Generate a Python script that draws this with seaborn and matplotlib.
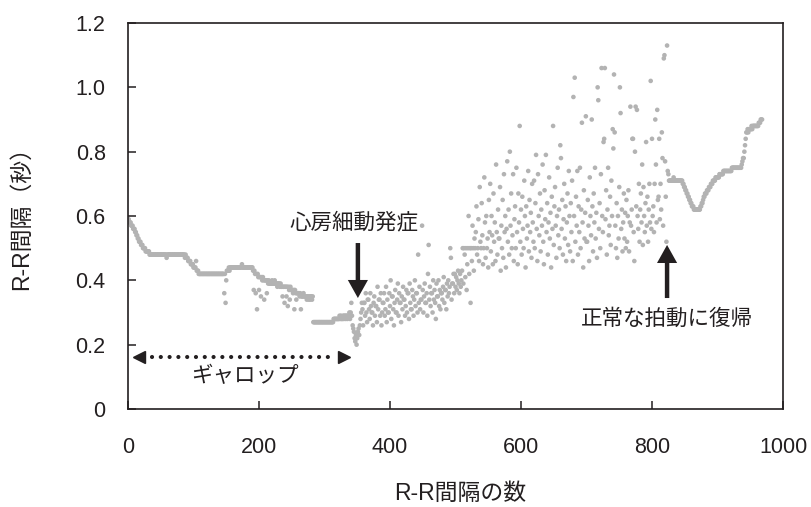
import numpy as np
import pandas as pd
import matplotlib
matplotlib.use("Agg")
import matplotlib.pyplot as plt
import seaborn as sns

# R-R intervals (s), one value per beat
gallop_rr = [
    0.59, 0.59, 0.58, 0.58, 0.58, 0.57, 0.57, 0.57, 0.56, 0.56,
    0.56, 0.55, 0.55, 0.54, 0.54, 0.53, 0.53, 0.52, 0.52, 0.52,
    0.51, 0.51, 0.51, 0.50, 0.50, 0.50, 0.50, 0.49, 0.49, 0.49,
    0.49, 0.49, 0.49, 0.48, 0.48, 0.48, 0.48, 0.48, 0.48, 0.48,
    0.48, 0.48, 0.48, 0.48, 0.48, 0.48, 0.48, 0.48, 0.48, 0.48,
    0.48, 0.48, 0.48, 0.48, 0.48, 0.48, 0.48, 0.48, 0.48, 0.47,
    0.48, 0.48, 0.48, 0.48, 0.48, 0.48, 0.48, 0.48, 0.48, 0.48,
    0.48, 0.48, 0.48, 0.48, 0.48, 0.48, 0.48, 0.48, 0.48, 0.48,
    0.48, 0.48, 0.48, 0.48, 0.48, 0.48, 0.48, 0.47, 0.48, 0.47,
    0.47, 0.47, 0.46, 0.46, 0.46, 0.46, 0.45, 0.45, 0.45, 0.45,
    0.44, 0.44, 0.44, 0.44, 0.46, 0.43, 0.43, 0.43, 0.42, 0.42,
    0.42, 0.42, 0.42, 0.42, 0.42, 0.42, 0.42, 0.42, 0.42, 0.42,
    0.42, 0.42, 0.42, 0.42, 0.42, 0.42, 0.42, 0.42, 0.42, 0.42,
    0.42, 0.42, 0.42, 0.42, 0.42, 0.42, 0.42, 0.42, 0.42, 0.42,
    0.42, 0.42, 0.42, 0.42, 0.42, 0.42, 0.42, 0.36, 0.42, 0.33,
    0.40, 0.43, 0.43, 0.43, 0.44, 0.43, 0.44, 0.44, 0.44, 0.44,
    0.44, 0.44, 0.44, 0.44, 0.44, 0.44, 0.44, 0.44, 0.44, 0.44,
    0.44, 0.44, 0.44, 0.44, 0.45, 0.44, 0.44, 0.44, 0.44, 0.44,
    0.44, 0.44, 0.44, 0.44, 0.44, 0.44, 0.44, 0.44, 0.44, 0.44,
    0.44, 0.43, 0.37, 0.43, 0.42, 0.36, 0.42, 0.31, 0.42, 0.41,
    0.37, 0.41, 0.41, 0.35, 0.41, 0.40, 0.41, 0.40, 0.34, 0.40,
    0.40, 0.40, 0.36, 0.40, 0.39, 0.40, 0.39, 0.39, 0.39, 0.39,
    0.40, 0.39, 0.39, 0.39, 0.40, 0.39, 0.39, 0.39, 0.38, 0.39,
    0.39, 0.39, 0.38, 0.39, 0.38, 0.38, 0.35, 0.38, 0.38, 0.33,
    0.38, 0.38, 0.35, 0.38, 0.32, 0.38, 0.37, 0.34, 0.38, 0.37,
    0.37, 0.37, 0.36, 0.37, 0.31, 0.37, 0.36, 0.34, 0.36, 0.36,
    0.36, 0.36, 0.35, 0.36, 0.31, 0.35, 0.35, 0.35, 0.36, 0.35,
    0.35, 0.35, 0.35, 0.34, 0.35, 0.35, 0.34, 0.35, 0.34, 0.35,
    0.35, 0.34, 0.35, 0.27, 0.27, 0.27, 0.27, 0.27, 0.27, 0.27,
    0.27, 0.27, 0.27, 0.27, 0.27, 0.27, 0.27, 0.27, 0.27, 0.27,
    0.27, 0.27, 0.27, 0.27, 0.27, 0.27, 0.27, 0.27, 0.27, 0.27,
    0.27, 0.27, 0.27, 0.27, 0.28, 0.28, 0.28, 0.28, 0.28, 0.28,
    0.28, 0.28, 0.28, 0.29, 0.28, 0.29, 0.28, 0.28, 0.29, 0.28,
    0.29, 0.29, 0.28, 0.29, 0.29, 0.28, 0.29, 0.29, 0.30, 0.28,
]

af_rr = [
    0.30, 0.33, 0.29, 0.26, 0.25, 0.24, 0.22, 0.21, 0.23, 0.20,
    0.22, 0.24, 0.25, 0.23, 0.26, 0.28, 0.30, 0.33, 0.31, 0.26,
    0.33, 0.33, 0.29, 0.36, 0.30, 0.27, 0.34, 0.34, 0.31, 0.28,
    0.36, 0.32, 0.30, 0.30, 0.26, 0.33, 0.35, 0.29, 0.32, 0.32,
    0.27, 0.38, 0.31, 0.34, 0.34, 0.29, 0.36, 0.26, 0.30, 0.33,
    0.33, 0.36, 0.29, 0.31, 0.38, 0.27, 0.34, 0.30, 0.30, 0.36,
    0.32, 0.40, 0.28, 0.35, 0.35, 0.31, 0.26, 0.33, 0.37, 0.30,
    0.30, 0.34, 0.39, 0.29, 0.36, 0.33, 0.33, 0.27, 0.35, 0.31,
    0.38, 0.34, 0.34, 0.29, 0.32, 0.37, 0.30, 0.36, 0.36, 0.28,
    0.39, 0.33, 0.31, 0.31, 0.37, 0.35, 0.29, 0.34, 0.40, 0.32,
    0.36, 0.36, 0.30, 0.48, 0.33, 0.38, 0.31, 0.34, 0.34, 0.57,
    0.37, 0.30, 0.35, 0.39, 0.33, 0.33, 0.36, 0.29, 0.42, 0.51,
    0.34, 0.38, 0.32, 0.36, 0.36, 0.30, 0.40, 0.34, 0.37, 0.33,
    0.28, 0.39, 0.35, 0.35, 0.40, 0.32, 0.37, 0.31, 0.36, 0.36,
    0.34, 0.38, 0.41, 0.33, 0.37, 0.37, 0.31, 0.39, 0.35, 0.40,
    0.36, 0.38, 0.50, 0.47, 0.34, 0.39, 0.39, 0.42, 0.36, 0.42,
    0.38, 0.41, 0.37, 0.40, 0.43, 0.39, 0.36, 0.42, 0.38, 0.40,
    0.43, 0.50, 0.39, 0.50, 0.48, 0.41, 0.50, 0.37, 0.45, 0.50,
    0.60, 0.42, 0.50, 0.33, 0.50, 0.46, 0.57, 0.50, 0.43, 0.53,
    0.50, 0.55, 0.63, 0.48, 0.50, 0.59, 0.46, 0.69, 0.52, 0.50,
    0.64, 0.54, 0.45, 0.50, 0.72, 0.58, 0.47, 0.60, 0.50, 0.53,
    0.44, 0.65, 0.55, 0.70, 0.49, 0.60, 0.54, 0.45, 0.67, 0.52,
    0.58, 0.46, 0.76, 0.55, 0.48, 0.62, 0.53, 0.53, 0.69, 0.43,
    0.57, 0.50, 0.65, 0.47, 0.73, 0.55, 0.60, 0.44, 0.56, 0.77,
    0.52, 0.62, 0.48, 0.80, 0.57, 0.67, 0.50, 0.54, 0.73, 0.46,
    0.59, 0.63, 0.50, 0.75, 0.55, 0.45, 0.67, 0.58, 0.88, 0.52,
    0.62, 0.48, 0.66, 0.56, 0.50, 0.71, 0.60, 0.44, 0.63, 0.53,
    0.57, 0.74, 0.49, 0.65, 0.55, 0.61, 0.47, 0.70, 0.58, 0.52,
    0.71, 0.50, 0.64, 0.79, 0.56, 0.46, 0.73, 0.60, 0.54, 0.67,
    0.49, 0.62, 0.57, 0.76, 0.52, 0.45, 0.68, 0.59, 0.79, 0.55,
    0.64, 0.48, 0.58, 0.72, 0.53, 0.61, 0.44, 0.66, 0.56, 0.88,
    0.51, 0.63, 0.69, 0.57, 0.47, 0.60, 0.75, 0.54, 0.62, 0.50,
    0.82, 0.78, 0.56, 0.65, 0.48, 0.59, 0.70, 0.53, 0.63, 0.46,
    0.58, 0.67, 0.51, 0.74, 0.60, 0.49, 0.64, 0.55, 0.71, 0.46,
    0.97, 0.60, 1.03, 0.52, 0.66, 0.57, 0.74, 0.48, 0.63, 0.55,
    0.75, 0.50, 0.62, 0.89, 0.58, 0.44, 0.68, 0.53, 0.61, 0.91,
    0.52, 0.52, 0.65, 0.57, 0.46, 0.72, 0.60, 0.54, 0.90, 0.63,
    0.49, 0.67, 0.58, 0.75, 0.53, 0.61, 0.47, 1.00, 0.96, 0.56,
    0.64, 0.50, 0.73, 1.06, 0.60, 0.55, 0.83, 0.84, 1.06, 0.59,
    0.68, 0.48, 0.62, 0.75, 0.54, 0.57, 0.66, 0.51, 0.71, 0.60,
    0.87, 0.81, 1.04, 0.86, 0.57, 0.50, 0.64, 0.47, 0.60, 0.53,
    0.69, 1.00, 0.92, 0.56, 0.62, 0.49, 0.58, 0.67, 0.53, 0.61,
    0.50, 0.65, 0.52, 0.60, 0.68, 0.49, 0.58, 0.94, 0.57, 0.62,
    0.84, 0.84, 0.55, 0.46, 0.80, 0.94, 0.63, 0.93, 0.60, 0.56,
    0.70, 0.52, 0.62, 0.67, 0.58, 0.76, 0.51, 0.69, 0.60, 0.55,
    0.64, 0.83, 0.57, 0.66, 0.52, 0.62, 0.70, 0.58, 1.02, 0.56,
    0.84, 0.60, 0.63, 0.55, 0.70, 0.90, 0.76, 0.58, 0.93, 0.65,
    0.66, 0.84, 0.59, 0.70, 0.62, 0.86, 0.78, 0.57, 1.09, 1.10,
    0.77, 0.66, 0.52, 1.13, 0.74, 0.73, 0.71, 0.71, 0.71, 0.71,
]

sinus_rr = [
    0.71, 0.71, 0.71, 0.72, 0.71, 0.71, 0.71, 0.71, 0.71, 0.71,
    0.71, 0.71, 0.71, 0.71, 0.71, 0.71, 0.71, 0.70, 0.70, 0.69,
    0.69, 0.68, 0.68, 0.67, 0.67, 0.66, 0.66, 0.65, 0.65, 0.64,
    0.64, 0.63, 0.63, 0.63, 0.62, 0.62, 0.62, 0.62, 0.62, 0.62,
    0.62, 0.62, 0.62, 0.62, 0.63, 0.63, 0.64, 0.64, 0.65, 0.66,
    0.66, 0.67, 0.67, 0.67, 0.68, 0.68, 0.68, 0.69, 0.69, 0.69,
    0.70, 0.70, 0.70, 0.71, 0.71, 0.71, 0.71, 0.72, 0.72, 0.72,
    0.72, 0.72, 0.72, 0.73, 0.73, 0.73, 0.73, 0.73, 0.73, 0.74,
    0.74, 0.74, 0.74, 0.74, 0.74, 0.74, 0.74, 0.74, 0.74, 0.74,
    0.74, 0.74, 0.75, 0.75, 0.75, 0.75, 0.75, 0.75, 0.75, 0.75,
    0.75, 0.75, 0.75, 0.75, 0.75, 0.75, 0.75, 0.76, 0.77, 0.78,
    0.78, 0.80, 0.82, 0.84, 0.86, 0.86, 0.87, 0.86, 0.87, 0.87,
    0.87, 0.87, 0.88, 0.87, 0.88, 0.88, 0.88, 0.88, 0.88, 0.88,
    0.88, 0.88, 0.88, 0.89, 0.89, 0.89, 0.90, 0.90, 0.90,
]

x_ticks = [0, 200, 400, 600, 800, 1000]
y_ticks = [0, 0.2, 0.4, 0.6, 0.8, 1.0, 1.2]
y_tick_labels = ["0", "0.2", "0.4", "0.6", "0.8", "1.0", "1.2"]

rr = gallop_rr + af_rr + sinus_rr
df = pd.DataFrame({"beat": np.arange(len(rr)), "rr": rr})

sns.set_style("ticks")
plt.rcParams["font.family"] = ["Liberation Sans", "Noto Sans CJK JP", "DejaVu Sans"]

ink = "#231f20"
fig = plt.figure(figsize=(8.12, 5.07), dpi=100)
ax = fig.add_axes([0.1576, 0.1933, 0.8067, 0.7613])

sns.scatterplot(data=df, x="beat", y="rr", s=11, color="#b3b3b3",
                edgecolor="none", linewidth=0, ax=ax, legend=False)

ax.set_xlim(0, 1000)
ax.set_ylim(0, 1.2)
ax.set_xticks(x_ticks)
ax.set_xticklabels([str(t) for t in x_ticks])
ax.set_yticks(y_ticks)
ax.set_yticklabels(y_tick_labels)
ax.tick_params(axis="both", direction="in", length=6, width=1.1, color=ink,
               labelcolor=ink, labelsize=15.5, top=False, right=False)
ax.tick_params(axis="x", pad=20)
ax.tick_params(axis="y", pad=16)
for sp in ax.spines.values():
    sp.set_visible(True)
    sp.set_color(ink)
    sp.set_linewidth(1.2)

ax.set_xlabel("R-R間隔の数", fontsize=16.5, color=ink, va="top")
ax.xaxis.set_label_coords(0.507, -0.19)
ax.set_ylabel("R-R間隔（秒）", fontsize=16.5, color=ink)
ax.yaxis.set_label_coords(-0.145, 0.51)

# annotations
arrow_kw = dict(width=3.2, headwidth=14.5, headlength=13, shrink=0,
                color=ink, linewidth=0)
ax.text(345, 0.58, "心房細動発症", ha="center", va="center", fontsize=15.5, color=ink)
ax.annotate("", xy=(351, 0.345), xytext=(351, 0.516), arrowprops=arrow_kw)
ax.annotate("", xy=(823, 0.51), xytext=(823, 0.345), arrowprops=arrow_kw)
ax.text(823, 0.28, "正常な拍動に復帰", ha="center", va="center", fontsize=15.5, color=ink)

ax.plot([36, 316], [0.162, 0.162], color=ink, lw=3.0,
        linestyle=(0, (0.01, 2.1)), dash_capstyle="round")
ax.plot([16.8], [0.162], marker="<", markersize=9, color=ink, linestyle="none")
ax.plot([330], [0.162], marker=">", markersize=9, color=ink, linestyle="none")
ax.text(179, 0.10, "ギャロップ", ha="center", va="center", fontsize=15.5, color=ink)

fig.savefig("out.png", dpi=100)
